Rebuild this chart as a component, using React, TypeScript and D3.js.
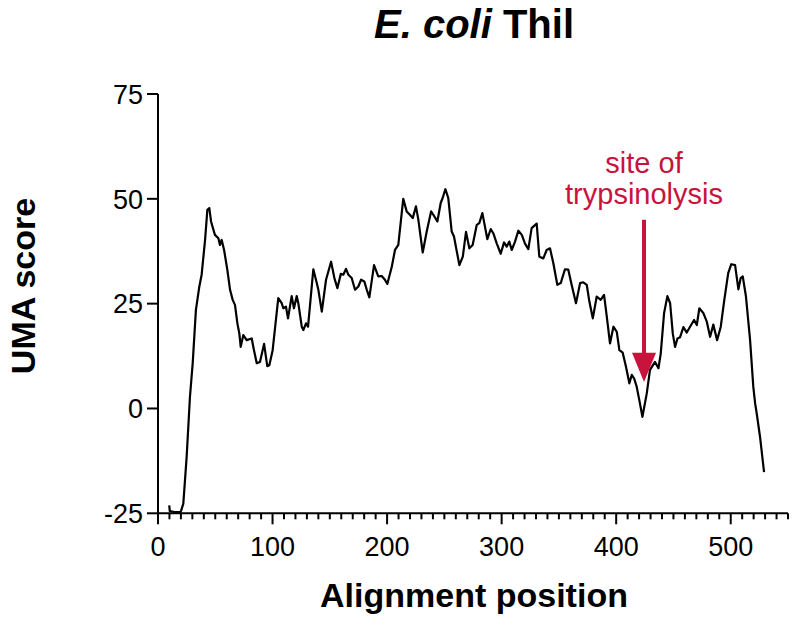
import React from "react";
import * as d3 from "d3";

const positions = [9.8, 10.3, 14.4, 19.8, 22.1, 25.0, 27.9, 30.3, 33.1, 36.1, 38.1, 41.1, 43.1, 44.8, 46.3, 49.7, 52.7, 54.1, 55.6, 57.7, 60.5, 62.9, 65.2, 67.2, 69.3, 71.0, 72.2, 74.5, 77.4, 81.8, 83.8, 86.2, 89.0, 92.6, 95.4, 97.2, 100.1, 105.0, 108.0, 109.4, 111.7, 113.5, 116.7, 118.7, 121.1, 122.5, 125.5, 126.9, 129.2, 131.0, 135.6, 138.6, 140.0, 143.0, 146.7, 151.1, 154.0, 156.6, 159.6, 161.8, 164.1, 166.2, 169.1, 172.0, 174.9, 177.3, 180.1, 182.3, 184.5, 188.6, 192.3, 195.3, 198.1, 200.2, 204.1, 206.9, 209.8, 214.1, 217.1, 219.9, 222.4, 225.2, 227.3, 231.1, 234.6, 238.4, 240.4, 243.9, 246.8, 248.5, 250.9, 253.4, 256.4, 258.4, 263.1, 266.1, 268.9, 271.8, 274.7, 278.3, 280.5, 283.2, 287.5, 290.5, 292.7, 295.7, 299.2, 302.1, 304.4, 306.7, 308.8, 311.7, 314.6, 317.6, 320.4, 323.3, 326.2, 330.6, 332.9, 336.4, 339.3, 342.2, 345.1, 348.6, 351.6, 355.3, 358.2, 361.1, 364.9, 368.5, 371.3, 374.3, 376.6, 379.6, 383.0, 386.5, 389.4, 391.8, 394.6, 397.6, 400.5, 402.8, 405.7, 408.6, 411.5, 413.6, 415.6, 417.9, 420.2, 422.9, 426.7, 429.5, 433.9, 436.9, 438.9, 441.8, 444.7, 447.1, 449.4, 451.4, 453.5, 455.8, 458.7, 461.6, 464.5, 468.0, 470.4, 472.6, 476.2, 479.1, 482.0, 484.8, 488.1, 491.3, 494.4, 497.8, 500.5, 503.8, 506.7, 508.7, 510.5, 513.3, 516.9, 519.7, 521.3, 522.7, 525.6, 529.1];

const umaScores = [-23.1, -24.5, -24.7, -24.7, -22.7, -11.6, 2.8, 10.8, 23.5, 29.1, 31.9, 40.2, 47.4, 47.8, 44.6, 41.4, 40.6, 39.0, 40.2, 37.8, 33.1, 28.3, 25.9, 24.7, 20.3, 17.9, 14.7, 17.5, 16.3, 16.7, 13.9, 10.8, 11.1, 15.4, 10.1, 10.3, 13.9, 26.3, 25.1, 23.9, 24.3, 21.5, 26.8, 23.9, 26.8, 25.1, 19.5, 18.7, 20.3, 19.5, 33.2, 29.9, 28.3, 23.1, 30.7, 35.0, 31.1, 28.7, 32.1, 31.9, 33.3, 31.9, 31.1, 28.3, 29.1, 30.7, 30.3, 28.3, 26.5, 34.2, 31.5, 31.6, 30.7, 29.7, 33.8, 37.8, 39.0, 50.0, 47.0, 46.2, 45.4, 48.2, 45.0, 37.2, 42.2, 47.0, 46.2, 44.6, 49.0, 50.2, 52.3, 50.2, 42.2, 41.0, 34.2, 36.2, 42.1, 38.2, 39.0, 43.8, 44.2, 46.6, 40.4, 42.8, 41.8, 39.4, 36.9, 39.6, 38.6, 39.8, 37.8, 39.8, 42.4, 41.4, 39.3, 38.0, 43.0, 44.1, 36.2, 35.8, 37.8, 38.2, 34.7, 29.5, 29.9, 33.2, 33.1, 29.5, 25.1, 29.9, 30.1, 29.5, 25.5, 21.5, 26.7, 25.9, 27.1, 21.9, 15.5, 19.5, 18.3, 13.9, 13.3, 9.9, 6.0, 8.0, 7.2, 5.2, 2.0, -2.0, 3.6, 9.2, 11.1, 9.6, 13.1, 22.7, 26.8, 25.1, 17.9, 14.7, 16.7, 17.0, 19.4, 18.1, 19.5, 21.1, 19.9, 23.9, 22.7, 20.7, 17.1, 20.0, 16.3, 19.5, 25.9, 32.3, 34.4, 34.2, 28.4, 31.1, 31.5, 26.7, 16.3, 5.2, 1.2, -1.2, -6.8, -15.2];

const yTicks = [-25, 0, 25, 50, 75];
const xMajorTicks = [0, 100, 200, 300, 400, 500];
const xMinorTicks = d3.range(0, 551, 10);

const titleItalic = "E. coli";
const titleRest = " Thil";
const xTitle = "Alignment position";
const yTitle = "UMA score";
const annotationLines = ["site of", "trypsinolysis"];
const siteX = 424.3;
const arrowTopY = 45;
const arrowHeadBaseY = 13.3;
const arrowTipY = 6.3;

const FONT = "'Liberation Sans', Arial, Helvetica, sans-serif";
const RED = "#c8143c";

export default function App() {
  const x = d3.scaleLinear().domain([0, 550]).range([158, 788]);
  const y = d3.scaleLinear().domain([-25, 75]).range([513.3, 94]);
  const data = positions.map((p, i) => [p, umaScores[i]] as [number, number]);
  const line = d3
    .line<[number, number]>()
    .x((d) => x(d[0]))
    .y((d) => y(d[1]));

  const x0 = x(0);
  const yBase = y(-25);
  const ax = x(siteX);

  return (
    <svg
      width={800}
      height={626}
      style={{ position: "absolute", left: 0, top: 0, background: "#fff" }}
      fontFamily={FONT}
    >
      <rect width={800} height={626} fill="#fff" />
      {/* title */}
      <text x={474} y={38} textAnchor="middle" fontSize={40} fontWeight="bold">
        <tspan fontStyle="italic">{titleItalic}</tspan>
        <tspan>{titleRest}</tspan>
      </text>

      {/* y axis */}
      <line x1={x0} x2={x0} y1={y(75)} y2={yBase} stroke="#000" strokeWidth={2} />
      {yTicks.map((t) => (
        <g key={"y" + t}>
          <line x1={x0 - 11} x2={x0} y1={y(t)} y2={y(t)} stroke="#000" strokeWidth={2} />
          <text x={x0 - 15} y={y(t)} dy="0.36em" textAnchor="end" fontSize={27}>
            {t}
          </text>
        </g>
      ))}

      {/* x axis */}
      <line x1={x0} x2={x(550)} y1={yBase} y2={yBase} stroke="#000" strokeWidth={2} />
      {xMinorTicks.map((t) => (
        <line
          key={"xm" + t}
          x1={x(t)}
          x2={x(t)}
          y1={yBase}
          y2={yBase + (t % 100 === 0 ? 11 : 6)}
          stroke="#000"
          strokeWidth={2}
        />
      ))}
      {xMajorTicks.map((t) => (
        <text key={"xl" + t} x={x(t)} y={556} textAnchor="middle" fontSize={27}>
          {t}
        </text>
      ))}

      {/* axis titles */}
      <text x={474} y={607} textAnchor="middle" fontSize={34} fontWeight="bold">
        {xTitle}
      </text>
      <text
        transform={`translate(35, 286) rotate(-90)`}
        textAnchor="middle"
        fontSize={34}
        fontWeight="bold"
      >
        {yTitle}
      </text>

      {/* data line */}
      <path d={line(data) || ""} fill="none" stroke="#000" strokeWidth={2.2} strokeLinejoin="round" />

      {/* annotation */}
      {annotationLines.map((s, i) => (
        <text key={s} x={ax} y={173 + i * 31} textAnchor="middle" fontSize={29} fill={RED}>
          {s}
        </text>
      ))}
      <line x1={ax} x2={ax} y1={y(arrowTopY)} y2={y(arrowHeadBaseY) + 2} stroke={RED} strokeWidth={4} />
      <polygon
        points={`${ax - 12},${y(arrowHeadBaseY)} ${ax + 12},${y(arrowHeadBaseY)} ${ax},${y(arrowTipY)}`}
        fill={RED}
      />
    </svg>
  );
}
